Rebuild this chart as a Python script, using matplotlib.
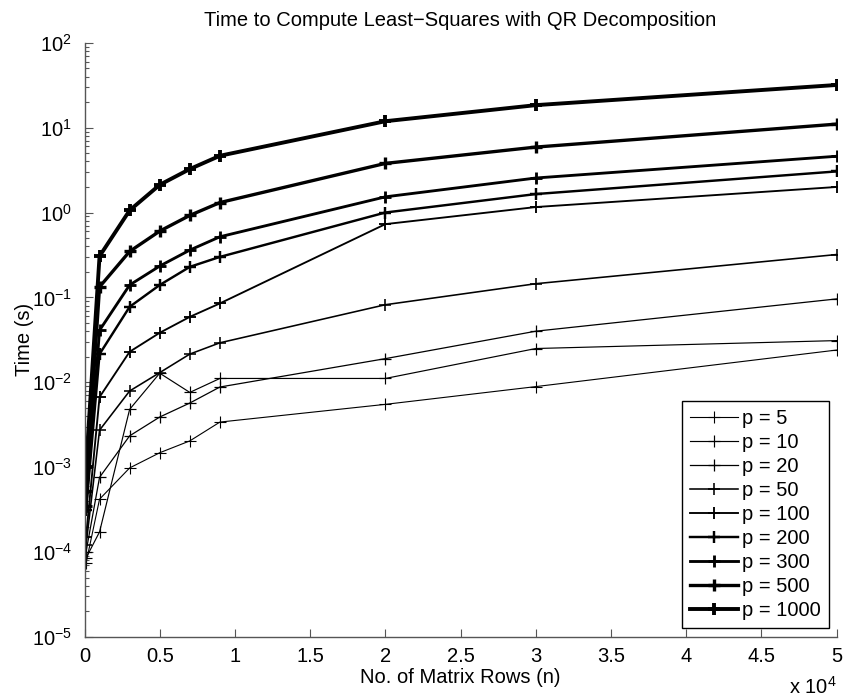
import numpy as np
import matplotlib
matplotlib.use("Agg")
import matplotlib.pyplot as plt
from matplotlib.ticker import FixedLocator, FuncFormatter, LogLocator, NullFormatter

plt.rcParams["font.family"] = ["Liberation Sans", "DejaVu Sans"]
plt.rcParams["mathtext.fontset"] = "custom"
plt.rcParams["mathtext.rm"] = "Liberation Sans"
plt.rcParams["mathtext.it"] = "Liberation Sans"
plt.rcParams["mathtext.default"] = "regular"

# データ: 行数 n と各 p の計算時間 (秒)
n_rows = [100, 1000, 3000, 5000, 7000, 9000, 20000, 30000, 50000]
p_labels = ["p = 5", "p = 10", "p = 20", "p = 50", "p = 100",
            "p = 200", "p = 300", "p = 500", "p = 1000"]

t_p5 = [0.000074, 0.00042, 0.00098, 0.00148, 0.00204, 0.0034, 0.0055, 0.0089, 0.024]
t_p10 = [0.000085, 0.000173, 0.0048, 0.0128, 0.0076, 0.0111, 0.0111, 0.025, 0.031]
t_p20 = [0.0001, 0.00076, 0.00234, 0.0039, 0.0057, 0.0088, 0.019, 0.040, 0.096]
t_p50 = [0.00012, 0.00273, 0.0079, 0.0130, 0.0215, 0.0292, 0.082, 0.145, 0.32]
t_p100 = [0.00015, 0.0067, 0.0229, 0.0383, 0.059, 0.085, 0.73, 1.16, 2.0]
t_p200 = [0.00031, 0.0215, 0.0775, 0.14, 0.229, 0.30, 1.0, 1.65, 3.05]
t_p300 = [0.00035, 0.041, 0.140, 0.234, 0.361, 0.518, 1.53, 2.55, 4.6]
t_p500 = [0.00052, 0.133, 0.348, 0.604, 0.925, 1.31, 3.79, 5.9, 11.0]
t_p1000 = [0.001, 0.306, 1.06, 2.12, 3.25, 4.66, 11.9, 18.4, 31.8]

series = [t_p5, t_p10, t_p20, t_p50, t_p100, t_p200, t_p300, t_p500, t_p1000]
widths = [0.8, 0.85, 0.9, 1.15, 1.35, 1.75, 2.05, 2.4, 2.8]

FS = 14.5

fig = plt.figure(figsize=(8.51, 6.96), dpi=100)
ax = fig.add_axes([0.0993, 0.0848, 0.8839, 0.8538])

for t, lab, lw in zip(series, p_labels, widths):
    ax.plot(n_rows, t, color="black", linewidth=lw, marker="+",
            markersize=8, markeredgewidth=lw, label=lab)

ax.set_yscale("log")
ax.set_xlim(0, 50000)
ax.set_ylim(1e-5, 1e2)

# x軸: 0〜5 (x 10^4)
ax.xaxis.set_major_locator(FixedLocator(np.arange(0, 50001, 5000)))
ax.xaxis.set_major_formatter(FuncFormatter(lambda v, pos: f"{v / 1e4:g}"))
ax.xaxis.get_offset_text().set_visible(False)
ax.yaxis.get_offset_text().set_visible(False)
ax.yaxis.set_major_locator(LogLocator(base=10, numticks=10))
ax.yaxis.set_minor_locator(LogLocator(base=10, subs=np.arange(2, 10), numticks=10))
ax.yaxis.set_minor_formatter(NullFormatter())
ax.yaxis.set_major_formatter(FuncFormatter(lambda v, pos: f"$10^{{{int(round(np.log10(v)))}}}$"))

ax.tick_params(which="both", direction="in", colors="#555555", labelcolor="black",
               labelsize=FS, width=0.8)
ax.tick_params(which="major", length=6)
ax.tick_params(which="minor", length=3)
ax.tick_params(axis="y", pad=9)
ax.tick_params(axis="x", pad=7)

ax.spines["top"].set_visible(False)
ax.spines["right"].set_visible(False)
for s in ["left", "bottom"]:
    ax.spines[s].set_color("#555555")
    ax.spines[s].set_linewidth(1.0)

ax.set_title("Time to Compute Least\u2212Squares with QR Decomposition", fontsize=FS, pad=12)
ax.set_xlabel("No. of Matrix Rows (n)", fontsize=FS, labelpad=2)
ax.set_ylabel("Time (s)", fontsize=FS, labelpad=-1.5)
ax.text(1.0, -0.095, "x 10$^4$", transform=ax.transAxes, ha="right", va="baseline", fontsize=FS)

leg = ax.legend(loc="lower right", bbox_to_anchor=(0.990, 0.0156), fontsize=FS,
                frameon=True, fancybox=False, framealpha=1, edgecolor="black",
                handlelength=2.4, handletextpad=0.2, labelspacing=0.245,
                borderpad=0.4, borderaxespad=0)
leg.get_frame().set_linewidth(1.0)

fig.savefig("out.png", dpi=100)
